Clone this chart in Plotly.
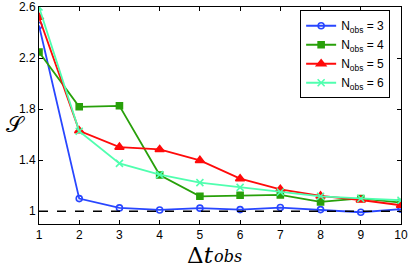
import plotly.graph_objects as go

dt = [1, 2, 3, 4, 5, 6, 7, 8, 9, 10]
s_n3 = [2.455, 1.099, 1.026, 1.010, 1.024, 1.013, 1.029, 1.013, 0.992, 1.016]
s_n4 = [2.248, 1.818, 1.826, 1.284, 1.117, 1.125, 1.128, 1.073, 1.100, 1.068]
s_n5 = [2.520, 1.630, 1.502, 1.484, 1.398, 1.255, 1.172, 1.120, 1.088, 1.047]
s_n6 = [2.600, 1.627, 1.375, 1.287, 1.224, 1.187, 1.151, 1.117, 1.100, 1.086]
names = ["N<sub>obs</sub> = 3", "N<sub>obs</sub> = 4", "N<sub>obs</sub> = 5", "N<sub>obs</sub> = 6"]
yticks = [1, 1.4, 1.8, 2.2, 2.6]
yticklabels = ["1", "1.4", "1.8", "2.2", "2.6"]

styles = [
    dict(color="rgb(40,70,255)", symbol="circle-open", size=6),
    dict(color="rgb(40,160,10)", symbol="square", size=6),
    dict(color="rgb(255,10,10)", symbol="triangle-up", size=8),
    dict(color="rgb(80,255,175)", symbol="x-thin-open", size=7),
]

fig = go.Figure()
for ys, nm, st in zip([s_n3, s_n4, s_n5, s_n6], names, styles):
    fig.add_trace(go.Scatter(
        x=dt, y=ys, name=nm, mode="lines+markers",
        line=dict(color=st["color"], width=1.8),
        marker=dict(symbol=st["symbol"], size=st["size"], color=st["color"],
                    line=dict(color=st["color"], width=1.6)),
    ))

fig.add_shape(type="line", xref="paper", yref="y", x0=0, x1=1, y0=1, y1=1,
              line=dict(color="black", width=1.3, dash="dash"))

axis_common = dict(showgrid=False, zeroline=False, showline=True, linecolor="black",
                   linewidth=1, mirror="ticks", ticks="inside", ticklen=4, automargin=False,
                   tickcolor="black", tickfont=dict(family="Liberation Sans, Arial", size=12, color="black"))

fig.update_xaxes(range=[1, 10], tickvals=dt, ticktext=[str(v) for v in dt], **axis_common)
fig.update_yaxes(range=[0.9, 2.6], tickvals=yticks, ticktext=yticklabels, **axis_common)

fig.add_annotation(xref="paper", yref="paper", x=0.488, y=-0.142, xanchor="right", yanchor="middle",
                   text="Δ<i>t</i>", showarrow=False,
                   font=dict(family="DejaVu Serif", size=23, color="black"))
fig.add_annotation(xref="paper", yref="paper", x=0.478, y=-0.152, xanchor="left", yanchor="middle",
                   text="<i>obs</i>", showarrow=False,
                   font=dict(family="DejaVu Serif", size=16, color="black"))
fig.add_annotation(xref="paper", yref="paper", x=-0.065, y=0.46, xanchor="center", yanchor="middle",
                   text="𝒮", showarrow=False,
                   font=dict(family="DejaVu Serif", size=22, color="black"))

fig.update_layout(
    width=415, height=268,
    margin=dict(l=39, r=14, t=7, b=44),
    plot_bgcolor="white", paper_bgcolor="white",
    showlegend=True,
    legend=dict(x=0.97, y=0.985, xanchor="right", yanchor="top",
                bgcolor="white", bordercolor="black", borderwidth=1,
                font=dict(family="Liberation Sans, Arial", size=12, color="black"),
                tracegroupgap=0, itemwidth=30),
)

fig.write_html("out.html", config={"displayModeBar": False},
               post_script="document.body.style.margin='0';document.body.style.padding='0';")
